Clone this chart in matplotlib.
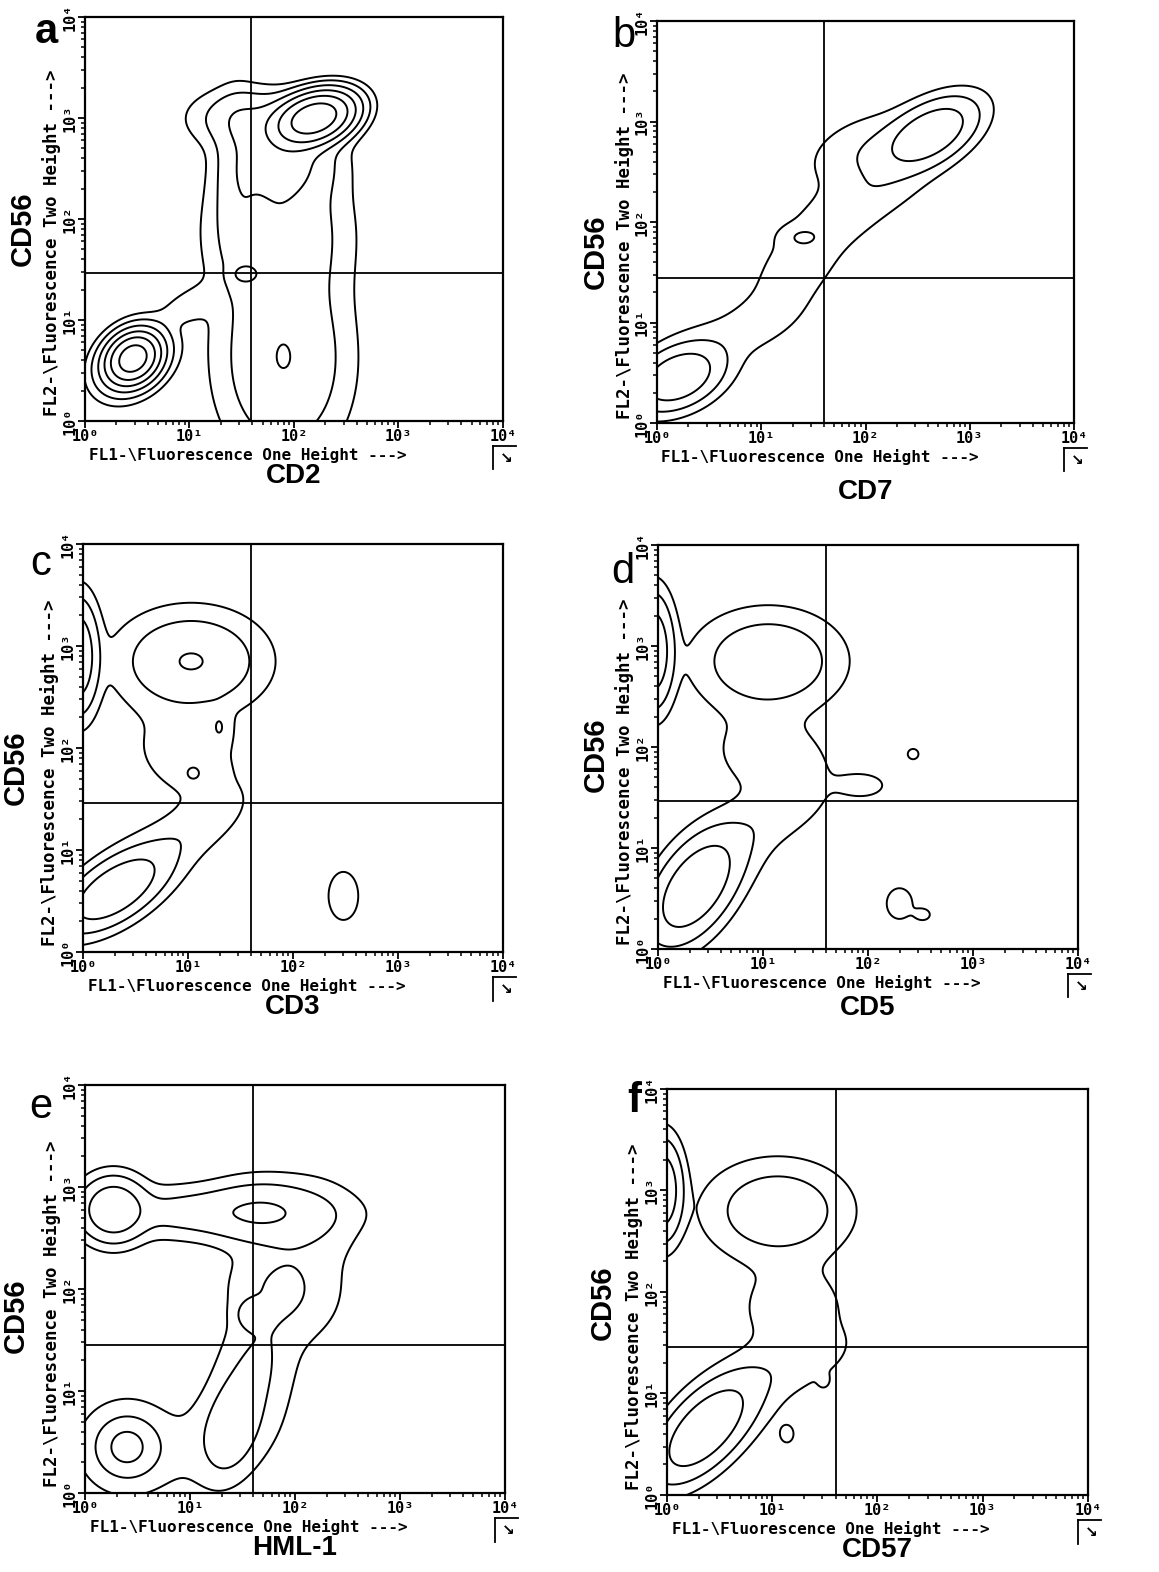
import numpy as np
import matplotlib
matplotlib.use("Agg")
from matplotlib import pyplot as plt
from matplotlib.ticker import LogLocator, NullFormatter

# Populations, in decades of the 4-decade log axes.
# x, y = centre, sx, sy = spread, r = tilt, w = relative peak height
a_x = [0.46, 0.45, 2.20, 1.60, 1.90, 1.45, 1.90, 1.85, 1.00, 1.52]
a_y = [0.62, 0.60, 3.00, 3.00, 2.60, 2.40, 0.60, 1.90, 1.15, 1.45]
a_sx = [0.13, 0.20, 0.20, 0.35, 0.30, 0.13, 0.38, 0.40, 0.18, 0.08]
a_sy = [0.13, 0.20, 0.14, 0.18, 0.25, 0.50, 0.60, 0.45, 0.12, 0.06]
a_r = [0.2, 0.3, 0.3, 0.0, 0.0, 0.0, 0.0, 0.0, 0.5, 0.0]
a_w = [0.80, 0.15, 1.00, 0.06, 0.08, 0.03, 0.07, 0.06, 0.02, 0.05]

b_x = [0.20, 0.35, 2.62, 2.10, 1.00, 1.35, 1.75, 2.15, 1.38]
b_y = [0.45, 0.60, 2.88, 2.70, 1.00, 1.55, 2.05, 2.35, 1.85]
b_sx = [0.21, 0.30, 0.23, 0.35, 0.28, 0.30, 0.30, 0.30, 0.12]
b_sy = [0.16, 0.25, 0.18, 0.22, 0.20, 0.30, 0.22, 0.20, 0.07]
b_r = [0.35, 0.5, 0.5, 0.3, 0.5, 0.5, 0.5, 0.5, 0.0]
b_w = [1.00, 0.08, 1.00, 0.12, 0.05, 0.06, 0.06, 0.06, 0.08]

c_x = [0.30, 0.60, 1.15, 1.03, -0.05, 1.00, 1.30, 1.05, 2.48]
c_y = [0.60, 0.85, 1.25, 2.85, 2.90, 1.90, 2.20, 1.75, 0.55]
c_sx = [0.25, 0.35, 0.25, 0.35, 0.10, 0.35, 0.07, 0.06, 0.12]
c_sy = [0.20, 0.30, 0.20, 0.25, 0.28, 0.30, 0.12, 0.06, 0.20]
c_r = [0.6, 0.7, 0.6, 0.0, 0.0, -0.3, 0.0, 0.0, 0.0]
c_w = [1.00, 0.10, 0.05, 0.42, 1.00, 0.06, 0.10, 0.10, 0.06]

d_x = [0.35, 0.65, 1.20, 1.05, -0.05, 1.10, 1.95, 2.43, 2.30, 2.53]
d_y = [0.60, 0.95, 1.35, 2.85, 2.95, 1.90, 1.62, 1.93, 0.45, 0.34]
d_sx = [0.22, 0.30, 0.25, 0.35, 0.10, 0.40, 0.15, 0.05, 0.12, 0.06]
d_sy = [0.28, 0.30, 0.20, 0.25, 0.28, 0.30, 0.08, 0.05, 0.15, 0.05]
d_r = [0.5, 0.6, 0.5, 0.0, 0.0, -0.2, 0.0, 0.0, 0.0, 0.0]
d_w = [1.00, 0.10, 0.05, 0.35, 1.00, 0.06, 0.06, 0.05, 0.05, 0.045]

e_x = [0.27, 1.20, 1.70, 2.20, 1.90, 1.62, 1.60, 0.40, 0.40, 1.40, 1.30]
e_y = [2.78, 2.75, 2.75, 2.65, 2.00, 1.20, 1.75, 0.45, 0.45, 0.65, 0.55]
e_sx = [0.16, 0.65, 0.30, 0.25, 0.30, 0.22, 0.08, 0.08, 0.22, 0.15, 0.35]
e_sy = [0.16, 0.14, 0.18, 0.25, 0.30, 0.35, 0.08, 0.08, 0.22, 0.27, 0.30]
e_r = [0.0, 0.0, 0.0, 0.0, 0.0, 0.3, 0.0, 0.0, 0.0, 0.3, 0.3]
e_w = [1.00, 0.22, 0.30, 0.08, 0.14, 0.14, 0.30, 0.90, 0.30, 0.25, 0.07]

f_x = [0.35, 0.70, 1.30, 1.05, -0.05, 1.20, 1.14, 1.49]
f_y = [0.64, 0.95, 1.30, 2.80, 3.00, 1.85, 0.60, 1.12]
f_sx = [0.24, 0.30, 0.30, 0.35, 0.10, 0.35, 0.06, 0.04]
f_sy = [0.26, 0.30, 0.20, 0.25, 0.25, 0.30, 0.08, 0.05]
f_r = [0.6, 0.6, 0.5, 0.0, 0.0, 0.0, 0.0, 0.0]
f_w = [1.00, 0.10, 0.05, 0.30, 1.00, 0.06, 0.05, 0.04]

letters = ["a", "b", "c", "d", "e", "f"]
markers = ["CD2", "CD7", "CD3", "CD5", "HML-1", "CD57"]
gate_x = [39, 40, 40, 40, 40, 40]
gate_y = [29, 28, 29, 29, 28, 29]
levels_a = [0.012, 0.03, 0.07, 0.15, 0.3, 0.6]
levels_other = [0.03, 0.12, 0.4]

panels = [
    (a_x, a_y, a_sx, a_sy, a_r, a_w),
    (b_x, b_y, b_sx, b_sy, b_r, b_w),
    (c_x, c_y, c_sx, c_sy, c_r, c_w),
    (d_x, d_y, d_sx, d_sy, d_r, d_w),
    (e_x, e_y, e_sx, e_sy, e_r, e_w),
    (f_x, f_y, f_sx, f_sy, f_r, f_w),
]

# axes boxes in figure fractions (left, bottom, width, height)
boxes = [
    [0.0733, 0.7322, 0.3607, 0.2570],
    [0.5669, 0.7309, 0.3598, 0.2557],
    [0.0716, 0.3944, 0.3624, 0.2595],
    [0.5677, 0.3963, 0.3624, 0.2570],
    [0.0733, 0.0503, 0.3624, 0.2595],
    [0.5755, 0.0490, 0.3632, 0.2583],
]
letter_pos = [(-0.093, 0.936), (-0.079, 0.935), (-0.10, 0.924),
              (-0.083, 0.906), (-0.105, 0.92), (-0.078, 0.943)]
letter_bold = [True, False, False, False, False, True]
cd56_pos = [(-0.148, 0.475), (-0.146, 0.425), (-0.16, 0.452),
            (-0.148, 0.48), (-0.164, 0.434), (-0.152, 0.474)]
marker_y = [-0.153, -0.19, -0.153, -0.163, -0.153, -0.152]


def density(gx, gy, xs, ys, sxs, sys_, rs, ws):
    z = np.zeros_like(gx)
    for x, y, sx, sy, r, w in zip(xs, ys, sxs, sys_, rs, ws):
        dx = (gx - x) / sx
        dy = (gy - y) / sy
        q = (dx * dx - 2 * r * dx * dy + dy * dy) / (1 - r * r)
        z += w * np.exp(-q / 2)
    return z


g = np.linspace(-0.6, 4.0, 461)
GX, GY = np.meshgrid(g, g)

mono = "DejaVu Sans Mono"
fig = plt.figure(figsize=(11.59, 15.72), dpi=100)

for i, params in enumerate(panels):
    ax = fig.add_axes(boxes[i])
    z = density(GX, GY, *params)
    lev = levels_a if i == 0 else levels_other
    ax.contour(10 ** GX, 10 ** GY, z, levels=lev, colors="black", linewidths=1.4)
    ax.axvline(gate_x[i], color="black", lw=1.3)
    ax.axhline(gate_y[i], color="black", lw=1.3)

    ax.set_xscale("log")
    ax.set_yscale("log")
    ax.set_xlim(1, 1e4)
    ax.set_ylim(1, 1e4)
    for s in ax.spines.values():
        s.set_linewidth(1.6)

    dec = [1, 10, 100, 1000, 10000]
    dec_lab = ["10⁰", "10¹", "10²", "10³", "10⁴"]
    ax.set_xticks(dec)
    ax.set_xticklabels(dec_lab, family=mono, weight="bold", fontsize=11)
    ax.set_yticks(dec)
    ax.set_yticklabels(dec_lab, family=mono, weight="bold", fontsize=11,
                       rotation=90, va="center")
    ax.xaxis.set_minor_locator(LogLocator(base=10, subs=np.arange(2, 10)))
    ax.yaxis.set_minor_locator(LogLocator(base=10, subs=np.arange(2, 10)))
    ax.xaxis.set_minor_formatter(NullFormatter())
    ax.yaxis.set_minor_formatter(NullFormatter())
    ax.tick_params(which="major", direction="out", length=5, width=1.3, pad=0.5)
    ax.tick_params(which="minor", direction="out", length=3, width=1.1)

    ax.text(0.39, -0.0965, "FL1-\\Fluorescence One Height --->", transform=ax.transAxes,
            ha="center", va="baseline", family=mono, weight="bold", fontsize=11.5)
    ax.text(-0.079, 0.44, "FL2-\\Fluorescence Two Height --->", transform=ax.transAxes,
            ha="center", va="center", rotation=90, family=mono, weight="bold",
            fontsize=12.5)
    ax.text(0.5, marker_y[i], markers[i], transform=ax.transAxes, ha="center",
            va="baseline", family="Liberation Sans", weight="bold", fontsize=20)
    ax.text(cd56_pos[i][0], cd56_pos[i][1], "CD56", transform=ax.transAxes,
            ha="center", va="center", rotation=90, family="Liberation Sans",
            weight="bold", fontsize=21)
    ax.text(letter_pos[i][0], letter_pos[i][1], letters[i], transform=ax.transAxes,
            ha="center", va="baseline", family="Liberation Sans",
            weight="bold" if letter_bold[i] else "normal", fontsize=30)

    # little marker box at the end of the x axis
    ax.plot([0.976, 0.976], [-0.062, -0.12], color="black", lw=1.3,
            transform=ax.transAxes, clip_on=False)
    ax.plot([0.976, 1.03], [-0.062, -0.062], color="black", lw=1.3,
            transform=ax.transAxes, clip_on=False)
    ax.text(1.007, -0.092, "↘", transform=ax.transAxes, ha="center", va="center",
            fontsize=11, weight="bold")

fig.savefig("out.png", dpi=100)
